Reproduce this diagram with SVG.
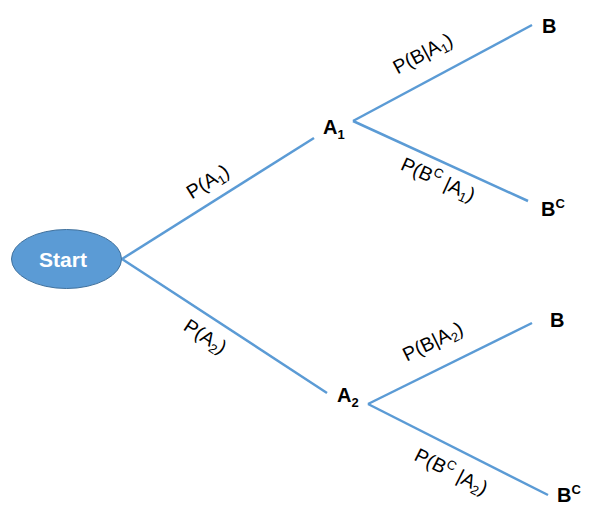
<svg xmlns="http://www.w3.org/2000/svg" width="592" height="522" viewBox="0 0 592 522">
<style>
.edge{stroke:#5B9BD5;stroke-width:2.5;fill:none;stroke-linecap:butt}
.lbl{font-family:"Liberation Sans","DejaVu Sans",sans-serif;font-size:19.5px;fill:#000}
.node{font-family:"Liberation Sans","DejaVu Sans",sans-serif;font-size:20px;font-weight:bold;fill:#000}
.sub{font-size:13px}
</style>
<rect width="592" height="522" fill="#fff"/>
<g id="connectors">
<line class="edge" x1="122" y1="259" x2="314" y2="138"/>
<line class="edge" x1="122" y1="259" x2="327" y2="393"/>
<line class="edge" x1="353" y1="121" x2="532" y2="25"/>
<line class="edge" x1="353" y1="121" x2="528" y2="201"/>
<line class="edge" x1="368" y1="404" x2="532" y2="323"/>
<line class="edge" x1="368" y1="404" x2="548" y2="495"/>
</g>
<g id="edge-labels">
<text class="lbl" text-anchor="middle" transform="translate(208,182) rotate(-32.2)" y="6">P(A<tspan class="sub" dy="4">1</tspan><tspan dy="-4">)</tspan></text>
<text class="lbl" text-anchor="middle" transform="translate(205,337) rotate(33.2)" y="6">P(A<tspan class="sub" dy="4">2</tspan><tspan dy="-4">)</tspan></text>
<text class="lbl" text-anchor="middle" transform="translate(423,54) rotate(-28.2)" y="6">P(B|A<tspan class="sub" dy="4">1</tspan><tspan dy="-4">)</tspan></text>
<text class="lbl" text-anchor="middle" transform="translate(438,180) rotate(24.6)" y="6">P(B<tspan class="sub" dy="-8">C</tspan><tspan dy="8"> |A</tspan><tspan class="sub" dy="4">1</tspan><tspan dy="-4">)</tspan></text>
<text class="lbl" text-anchor="middle" transform="translate(433,342) rotate(-26.3)" y="6">P(B|A<tspan class="sub" dy="4">2</tspan><tspan dy="-4">)</tspan></text>
<text class="lbl" text-anchor="middle" transform="translate(451,472) rotate(26.8)" y="6">P(B<tspan class="sub" dy="-8">C</tspan><tspan dy="8"> |A</tspan><tspan class="sub" dy="4">2</tspan><tspan dy="-4">)</tspan></text>
</g>
<g id="start">
<ellipse cx="66.5" cy="259" rx="55" ry="29.5" fill="#5B9BD5" stroke="#41719C" stroke-width="1"/>
<text x="63" y="266.5" text-anchor="middle" font-family="Liberation Sans, DejaVu Sans, sans-serif" font-size="21" font-weight="bold" fill="#fff">Start</text>
</g>
<g id="A1"><text class="node" x="323" y="134">A<tspan class="sub" dy="5">1</tspan></text></g>
<g id="A2"><text class="node" x="337" y="402">A<tspan class="sub" dy="5">2</tspan></text></g>
<g id="B1"><text class="node" x="542" y="33">B</text></g>
<g id="BC1"><text class="node" x="541" y="216">B<tspan class="sub" dy="-8">C</tspan></text></g>
<g id="B2"><text class="node" x="550" y="327">B</text></g>
<g id="BC2"><text class="node" x="557" y="502">B<tspan class="sub" dy="-8">C</tspan></text></g>
</svg>
